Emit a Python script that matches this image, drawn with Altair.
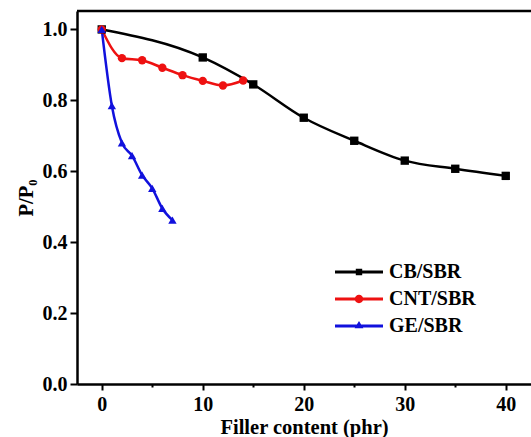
import altair as alt
import pandas as pd

# ---- data ----
series = ["CB/SBR", "CNT/SBR", "GE/SBR"]
cb_x = [0, 10, 15, 20, 25, 30, 35, 40]
cb_y = [1.0, 0.921, 0.845, 0.751, 0.686, 0.630, 0.607, 0.587]
cnt_x = [0, 2, 4, 6, 8, 10, 12, 14]
cnt_y = [1.0, 0.919, 0.913, 0.892, 0.871, 0.855, 0.842, 0.856]
ge_x = [0, 1, 2, 3, 4, 5, 6, 7]
ge_y = [1.0, 0.785, 0.680, 0.644, 0.589, 0.552, 0.495, 0.462]

x_ticks = [0, 5, 10, 15, 20, 25, 30, 35, 40]
y_ticks = [0.0, 0.1, 0.2, 0.3, 0.4, 0.5, 0.6, 0.7, 0.8, 0.9, 1.0]
x_lim = [-2.45, 42.5]
y_lim = [0.0, 1.052]

colors = ["#000000", "#EE1111", "#1111DD"]
shapes = ["square", "circle", "triangle-up"]
# legend glyphs: a filled bar (the line) plus the marker, all drawn clockwise
legend_paths = [
    "M-6,-0.35L6,-0.35L6,0.35L-6,0.35Z"
    "M-0.8,-0.8L0.8,-0.8L0.8,0.8L-0.8,0.8Z",
    "M-6,-0.35L6,-0.35L6,0.35L-6,0.35Z"
    "M1.05,0A1.05,1.05,0,1,1,-1.05,0A1.05,1.05,0,1,1,1.05,0Z",
    "M-6,-0.35L6,-0.35L6,0.35L-6,0.35Z"
    "M0,-1.25L1.1,0.55L-1.1,0.55Z",
]

rows = []
for name, xs, ys in [(series[0], cb_x, cb_y), (series[1], cnt_x, cnt_y), (series[2], ge_x, ge_y)]:
    for xv, yv in zip(xs, ys):
        rows.append({"series": name, "x": xv, "y": yv})
df = pd.DataFrame(rows)

FONT = "Times New Roman, Liberation Serif, DejaVu Serif, serif"

x_enc = alt.X(
    "x:Q",
    scale=alt.Scale(domain=x_lim, nice=False, zero=False),
    axis=alt.Axis(
        values=x_ticks,
        title="Filler content (phr)",
        labelExpr="datum.value % 10 == 0 ? datum.label : ''",
        tickSize={"condition": {"test": "datum.value % 10 == 0", "value": 6}, "value": 3},
        grid=False,
    ),
)
y_enc = alt.Y(
    "y:Q",
    scale=alt.Scale(domain=y_lim, nice=False, zero=False),
    axis=alt.Axis(
        values=y_ticks,
        title="P/P\u2080",
        labelExpr="round(datum.value*10) % 2 == 0 ? format(datum.value, '.1f') : ''",
        tickSize={"condition": {"test": "round(datum.value*10) % 2 == 0", "value": 7}, "value": 4},
        grid=False,
    ),
)
color_scale = alt.Scale(domain=series, range=colors)

base = alt.Chart(df)

lines = base.mark_line(strokeWidth=2.5, interpolate="monotone").encode(
    x=x_enc, y=y_enc,
    color=alt.Color("series:N", scale=color_scale, legend=None),
    detail="series:N",
)

# markers: one layer per series with its own marker shape
point_layers = []
for i, name in enumerate(series):
    point_layers.append(
        base.transform_filter(alt.datum.series == name)
        .mark_point(filled=True, shape=shapes[i], size=70, color=colors[i], opacity=1)
        .encode(x=x_enc, y=y_enc)
    )

# one legend entry per series: line + marker symbol drawn from a shape scale
legend_layers = []
for i, name in enumerate(series):
    legend_layers.append(
        base.transform_filter("false")
        .mark_point(filled=True, color=colors[i], opacity=1)
        .encode(
            shape=alt.Shape(
                "series:N",
                scale=alt.Scale(domain=[name], range=[legend_paths[i]]),
                legend=alt.Legend(
                    title=None,
                    orient="none",
                    legendX=272,
                    legendY=251 + 27 * i,
                    symbolFillColor=colors[i],
                    symbolStrokeColor=colors[i],
                ),
            )
        )
    )

frame_top = alt.Chart(alt.Data(values=[{}])).mark_rule(color="black", strokeWidth=2.5).encode(
    x=alt.datum(x_lim[0]), x2=alt.datum(x_lim[1]), y=alt.datum(y_lim[1])
)

chart = (
    alt.layer(lines, *point_layers, *legend_layers, frame_top)
    .resolve_scale(shape="independent")
    .properties(
        width=454,
        height=373,
        autosize=alt.AutoSizeParams(type="none"),
        padding={"left": 77, "top": 11, "right": 0, "bottom": 53},
        background="white",
    )
    .configure_view(stroke=None)
    .configure_axis(
        domainColor="black",
        domainWidth=2.5,
        tickColor="black",
        tickWidth=2,
        labelFont=FONT,
        labelFontWeight="bold",
        labelFontSize=20,
        labelColor="black",
        titleFont=FONT,
        titleFontWeight="bold",
        titleFontSize=20.5,
        titleColor="black",
    )
    .configure_axisX(labelPadding=4, titlePadding=3)
    .configure_axisY(labelPadding=3, titlePadding=6)
    .configure_legend(
        padding=0,
        symbolSize=64,
        symbolStrokeWidth=0,
        symbolOpacity=1,
        labelOffset=20,
        labelFont=FONT,
        labelFontWeight="bold",
        labelFontSize=20,
        labelColor="black",
    )
)

chart.save("out.html", embed_options={"renderer": "svg", "actions": False})
